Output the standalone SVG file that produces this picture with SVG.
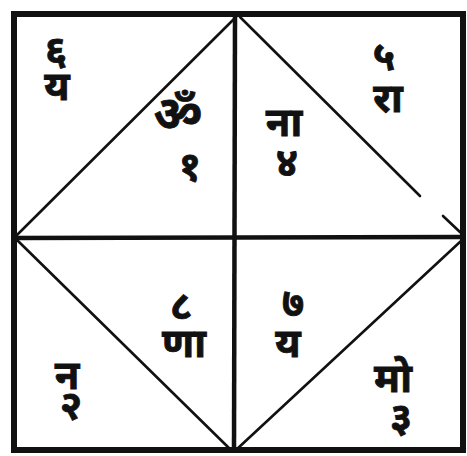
<svg xmlns="http://www.w3.org/2000/svg" width="467" height="456" viewBox="0 0 467 456">
<style>
.t{font-family:"Noto Sans Devanagari","Noto Sans","Lohit Devanagari","FreeSans",sans-serif;font-weight:bold;font-size:40px;fill:#111;stroke:#111;stroke-width:0.8;text-anchor:middle;dominant-baseline:central}
.om{font-size:48px}
.frame{fill:none;stroke:#111;stroke-width:6}
.mid{stroke:#111;stroke-width:4.5}
.diag{stroke:#111;stroke-width:2.6;stroke-linecap:round}
</style>
<rect width="467" height="456" fill="#fff"/>
<g id="connectors">
<rect class="frame" x="14" y="14" width="449" height="436"/>
<line class="mid" x1="235" y1="14" x2="234" y2="450"/>
<line class="mid" x1="14" y1="238" x2="463" y2="237"/>
<line class="diag" x1="236" y1="17" x2="17" y2="235"/>
<line class="diag" x1="240" y1="17" x2="420" y2="196"/>
<line class="diag" x1="443" y1="216" x2="461" y2="233"/>
<line class="diag" x1="17" y1="240" x2="230" y2="449"/>
<line class="diag" x1="237" y1="449" x2="461" y2="241"/>
</g>
<g id="n6"><text class="t"><tspan x="56" y="54">६</tspan><tspan x="57" y="90">य</tspan></text></g>
<g id="n1"><text class="t"><tspan class="om" x="178" y="118">ॐ</tspan><tspan x="190" y="170">१</tspan></text></g>
<g id="n4"><text class="t"><tspan x="284" y="126">ना</tspan><tspan x="287" y="166">४</tspan></text></g>
<g id="n5"><text class="t"><tspan x="384" y="60">५</tspan><tspan x="388" y="102">रा</tspan></text></g>
<g id="n8"><text class="t"><tspan x="181" y="310">८</tspan><tspan x="184" y="347">णा</tspan></text></g>
<g id="n7"><text class="t"><tspan x="293" y="306">७</tspan><tspan x="288" y="347">य</tspan></text></g>
<g id="n2"><text class="t"><tspan x="67" y="379">न</tspan><tspan x="71" y="409">२</tspan></text></g>
<g id="n3"><text class="t"><tspan x="393" y="382">मो</tspan><tspan x="401" y="421">३</tspan></text></g>
</svg>
